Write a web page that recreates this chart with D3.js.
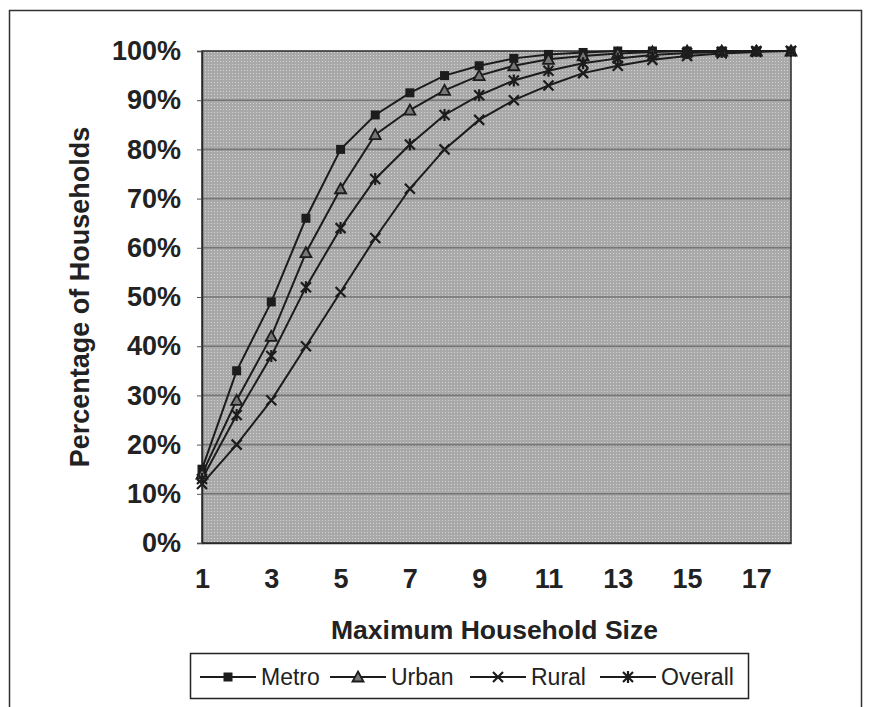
<!DOCTYPE html>
<html>
<head>
<meta charset="utf-8">
<script src="https://cdn.jsdelivr.net/npm/d3@7"></script>
<style>
  html, body { margin: 0; padding: 0; background: #fff; }
  svg { display: block; font-family: Arial, "Liberation Sans", sans-serif; }
</style>
</head>
<body>
<svg id="chart" width="872" height="707"></svg>
<script>
// Household size categories (x axis)
const sizes = d3.range(1, 19);
const xTickLabels = [1, 3, 5, 7, 9, 11, 13, 15, 17];
const yTickValues = [0, 0.1, 0.2, 0.3, 0.4, 0.5, 0.6, 0.7, 0.8, 0.9, 1.0];

// Cumulative share of households (%) by maximum household size
const metro   = [15, 35, 49, 66, 80, 87, 91.5, 95, 97, 98.5, 99.3, 99.7, 100, 100, 100, 100, 100, 100];
const urban   = [14, 29, 42, 59, 72, 83, 88, 92, 95, 97, 98.3, 99, 99.5, 99.8, 100, 100, 100, 100];
const rural   = [12, 20, 29, 40, 51, 62, 72, 80, 86, 90, 93, 95.5, 97, 98.2, 99, 99.5, 99.8, 100];
const overall = [13, 26, 38, 52, 64, 74, 81, 87, 91, 94, 96, 97.5, 98.5, 99.2, 99.6, 99.8, 100, 100];

const seriesNames = ["Metro", "Urban", "Rural", "Overall"];
const seriesValues = [metro, urban, rural, overall];
const seriesMarkers = ["square", "triangle", "cross", "asterisk"];

const svg = d3.select("#chart");
const ink = "#1c1c1c";

// Outer frame
svg.append("rect")
  .attr("x", 9.5).attr("y", 10.5).attr("width", 852).attr("height", 720)
  .attr("fill", "#fff").attr("stroke", "#333").attr("stroke-width", 1.5);

const plot = { left: 202, right: 791, top: 51, bottom: 543 };

const x = d3.scalePoint().domain(sizes).range([plot.left, plot.right]).padding(0);
const y = d3.scaleLinear().domain([0, 1]).range([plot.bottom, plot.top]);

// Halftone grey fill of the plot area
const defs = svg.append("defs");
const pat = defs.append("pattern")
  .attr("id", "halftone").attr("patternUnits", "userSpaceOnUse")
  .attr("width", 3).attr("height", 3);
pat.append("rect").attr("width", 3).attr("height", 3).attr("fill", "#a9a9a9");
pat.append("rect").attr("x", 1).attr("y", 1).attr("width", 1).attr("height", 1).attr("fill", "#d2d2d2");

svg.append("rect")
  .attr("x", plot.left).attr("y", plot.top)
  .attr("width", plot.right - plot.left).attr("height", plot.bottom - plot.top)
  .attr("fill", "url(#halftone)");

// Horizontal gridlines
svg.append("g")
  .selectAll("line")
  .data(yTickValues.slice(1, -1))
  .join("line")
  .attr("x1", plot.left).attr("x2", plot.right)
  .attr("y1", d => y(d)).attr("y2", d => y(d))
  .attr("stroke", "#767676").attr("stroke-width", 1.6);

// Plot border
svg.append("rect")
  .attr("x", plot.left).attr("y", plot.top)
  .attr("width", plot.right - plot.left).attr("height", plot.bottom - plot.top)
  .attr("fill", "none").attr("stroke", "#2a2a2a").attr("stroke-width", 1.5);

// Y axis
const yAxis = svg.append("g")
  .attr("transform", `translate(${plot.left},0)`)
  .call(d3.axisLeft(y).tickValues(yTickValues).tickFormat(d3.format(".0%")).tickSize(5).tickPadding(16));
yAxis.select(".domain").attr("stroke", "#2a2a2a").attr("stroke-width", 1.5);
yAxis.selectAll(".tick line").attr("stroke", "#555");
yAxis.selectAll("text")
  .attr("font-size", 27).attr("font-weight", "bold").attr("fill", "#222")
  .attr("font-family", "Arial, 'Liberation Sans', sans-serif");

// X axis
const xAxis = svg.append("g")
  .attr("transform", `translate(0,${plot.bottom})`)
  .call(d3.axisBottom(x).tickValues(xTickLabels).tickSize(0).tickPadding(26));
xAxis.select(".domain").attr("stroke", "#2a2a2a").attr("stroke-width", 1.5);
xAxis.selectAll("text")
  .attr("font-size", 27).attr("font-weight", "bold").attr("fill", "#222")
  .attr("font-family", "Arial, 'Liberation Sans', sans-serif");

// Axis titles
svg.append("text")
  .attr("x", (plot.left + plot.right) / 2 - 2).attr("y", 639)
  .attr("text-anchor", "middle")
  .attr("font-size", 26.5).attr("font-weight", "bold").attr("fill", "#222")
  .text("Maximum Household Size");

svg.append("text")
  .attr("transform", `translate(89,${(plot.top + plot.bottom) / 2}) rotate(-90)`)
  .attr("text-anchor", "middle")
  .attr("font-size", 27).attr("font-weight", "bold").attr("fill", "#222")
  .text("Percentage of Households");

// Marker shapes
function drawMarker(g, type, cx, cy) {
  if (type === "square") {
    g.append("rect").attr("x", cx - 4.5).attr("y", cy - 4.5).attr("width", 9).attr("height", 9)
      .attr("fill", ink);
  } else if (type === "triangle") {
    g.append("path")
      .attr("d", `M${cx},${cy - 5.5}L${cx + 5.5},${cy + 4.5}L${cx - 5.5},${cy + 4.5}Z`)
      .attr("fill", "#777").attr("stroke", ink).attr("stroke-width", 1.8);
  } else if (type === "cross") {
    g.append("path")
      .attr("d", `M${cx - 5},${cy - 5}L${cx + 5},${cy + 5}M${cx - 5},${cy + 5}L${cx + 5},${cy - 5}`)
      .attr("stroke", ink).attr("stroke-width", 2.2);
  } else {
    g.append("path")
      .attr("d", `M${cx - 5},${cy - 5}L${cx + 5},${cy + 5}M${cx - 5},${cy + 5}L${cx + 5},${cy - 5}M${cx},${cy - 6}L${cx},${cy + 6}`)
      .attr("stroke", ink).attr("stroke-width", 2.2);
  }
}

// Series lines and markers
const line = d3.line()
  .x((d, i) => x(sizes[i]))
  .y(d => y(d / 100));

const seriesG = svg.append("g");
seriesValues.forEach((vals) => {
  seriesG.append("path")
    .datum(vals)
    .attr("d", line)
    .attr("fill", "none")
    .attr("stroke", ink)
    .attr("stroke-width", 2);
});
seriesValues.forEach((vals, si) => {
  const mg = seriesG.append("g");
  vals.forEach((v, i) => drawMarker(mg, seriesMarkers[si], x(sizes[i]), y(v / 100)));
});

// Legend
const legend = svg.append("g");
legend.append("rect")
  .attr("x", 190.5).attr("y", 653.5).attr("width", 558).attr("height", 45)
  .attr("fill", "#fff").attr("stroke", "#222").attr("stroke-width", 1.5);

const legendStarts = [200, 330, 470, 600];
seriesNames.forEach((name, i) => {
  const x0 = legendStarts[i];
  const ly = 677;
  legend.append("line")
    .attr("x1", x0).attr("x2", x0 + 56).attr("y1", ly).attr("y2", ly)
    .attr("stroke", ink).attr("stroke-width", 2);
  drawMarker(legend, seriesMarkers[i], x0 + 28, ly);
  legend.append("text")
    .attr("x", x0 + 61).attr("y", ly + 7.5)
    .attr("font-size", 23).attr("fill", "#222")
    .text(name);
});
</script>
</body>
</html>
